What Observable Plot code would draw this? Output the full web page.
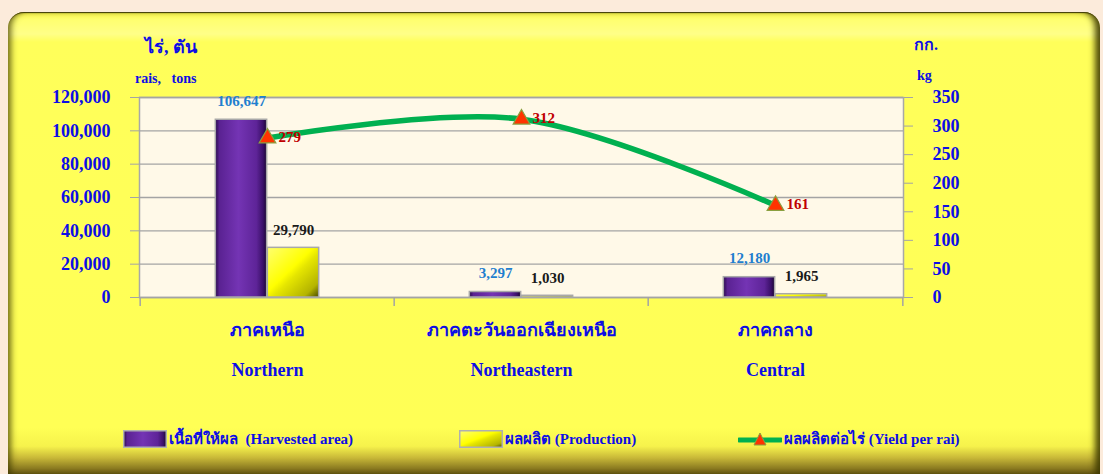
<!DOCTYPE html>
<html><head><meta charset="utf-8">
<script src="https://cdn.jsdelivr.net/npm/d3@7"></script>
<script src="https://cdn.jsdelivr.net/npm/@observablehq/plot@0.6"></script>
<style>
html,body{margin:0;padding:0;background:#fcebdb;}
#wrap{position:relative;width:1103px;height:474px;overflow:hidden;background:#fcebdb;font-family:"Liberation Serif","Times New Roman",serif;}
#panel{position:absolute;left:8px;top:12px;width:1092px;height:462px;border-radius:16px 16px 0 0;
 background:linear-gradient(#f4f048 0px,#ffff70 8px,#ffff88 22px,#ffff5a 30px,#ffff55 90%,#f6f24c 94%,#c8b838 96.5%,#6a5a14 100%);
 box-shadow:inset -8px 0 6px -3px rgba(60,55,0,.9), inset 6px 0 6px -3px rgba(60,55,0,.75), inset 0 2px 1px -1px rgba(40,35,0,.9);}
#chart{position:absolute;left:0;top:0;}
.t{position:absolute;color:#0d0de6;font-weight:bold;white-space:pre;}
.leg{position:absolute;display:flex;align-items:center;color:#0d0de6;font-weight:bold;font-size:15px;white-space:pre;}
.leg svg{margin-right:2px;}
</style>
</head><body>
<svg width="0" height="0" style="position:absolute">
 <defs>
  <linearGradient id="gPurple" x1="0" y1="0" x2="1" y2="0">
   <stop offset="0" stop-color="#2a0a4c"/><stop offset="0.08" stop-color="#5a2292"/>
   <stop offset="0.45" stop-color="#7434b4"/><stop offset="0.8" stop-color="#5e2498"/>
   <stop offset="0.93" stop-color="#3a1068"/><stop offset="1" stop-color="#1a0630"/>
  </linearGradient>
  <linearGradient id="gYellow" x1="0" y1="0" x2="1" y2="1">
   <stop offset="0" stop-color="#ffff70"/><stop offset="0.45" stop-color="#ffff00"/>
   <stop offset="0.55" stop-color="#e6e600"/><stop offset="0.85" stop-color="#b4b400"/>
   <stop offset="1" stop-color="#4a4a00"/>
  </linearGradient>
 </defs>
</svg>
<div id="wrap">
 <div id="panel"></div>
 <div id="chart"></div>
 <div class="t" style="left:145px;top:32px;font-size:18px;">ไร่, ตัน</div>
 <div class="t" style="left:135px;top:71px;font-size:14px;">rais,   tons</div>
 <div class="t" style="left:914px;top:32px;font-size:16px;">กก.</div>
 <div class="t" style="left:917px;top:68px;font-size:14px;">kg</div>
 <div class="leg" style="left:123px;top:427px;">
  <svg width="44" height="18"><rect x="0.75" y="0.75" width="42.5" height="16.5" fill="url(#gPurple)" stroke="#b0b0b0" stroke-width="1.5"/></svg><span>เนื้อที่ให้ผล  (Harvested area)</span>
 </div>
 <div class="leg" style="left:459px;top:427px;">
  <svg width="44" height="18"><rect x="0.75" y="0.75" width="42.5" height="16.5" fill="url(#gYellow)" stroke="#b0b0b0" stroke-width="1.5"/></svg><span>ผลผลิต (Production)</span>
 </div>
 <div class="leg" style="left:738px;top:427px;">
  <svg width="44" height="18"><line x1="1" y1="10" x2="43" y2="10" stroke="#00b050" stroke-width="5" stroke-linecap="round"/><path d="M22,3 L28,15 L16,15 Z" fill="#ff3300" stroke="#8aa040" stroke-width="1"/></svg><span>ผลผลิตต่อไร่ (Yield per rai)</span>
 </div>
</div>
<script>
// ---- data ----
const regionsTh = ["ภาคเหนือ", "ภาคตะวันออกเฉียงเหนือ", "ภาคกลาง"];
const regionsEn = ["Northern", "Northeastern", "Central"];
const harvestedArea = [106647, 3297, 12180];   // rais
const production = [29790, 1030, 1965];        // tons
const yieldPerRai = [279, 312, 161];           // kg
const leftTicks = [0, 20000, 40000, 60000, 80000, 100000, 120000];
const rightTicks = [0, 50, 100, 150, 200, 250, 300, 350];

// ---- layout ----
const W = 1103, H = 410, mL = 139, mR = 200, mT = 97, mB = 113;
const K = 120000 / 350;                 // right axis -> left axis units
const half = (W - mL - mR) / 3 / 2;     // half band width
const barW = 52;
const blue = "#0d0de6";

const rows = regionsEn.map((r, i) => ({
  region: r, th: regionsTh[i], area: harvestedArea[i], prod: production[i],
  yld: yieldPerRai[i], yScaled: yieldPerRai[i] * K
}));

const sepStyle = {y1: 0, y2: -5400, stroke: "#a4a4a4", strokeWidth: 1.5};

const chart = Plot.plot({
  width: W, height: H, marginLeft: mL, marginRight: mR, marginTop: mT, marginBottom: mB,
  style: {background: "transparent", fontFamily: "'Liberation Serif','Times New Roman',serif"},
  x: {domain: regionsEn, padding: 0, axis: null},
  y: {domain: [0, 120000], axis: null, label: null},
  marks: [
    Plot.frame({fill: "#fff9e8", stroke: "#a8a8a8", strokeWidth: 1.5}),
    Plot.gridY(leftTicks, {stroke: "#a4a4a4", strokeOpacity: 1, strokeWidth: 1.3}),
    Plot.ruleX(regionsEn, {x: d => d, dx: -half, ...sepStyle}),
    Plot.ruleX(regionsEn.slice(-1), {x: d => d, dx: half, ...sepStyle}),
    Plot.axisY(leftTicks, {anchor: "left", label: null, tickSize: 9, tickPadding: 20, tickFormat: d3.format(","),
      stroke: "#a4a4a4", fill: blue, fontSize: 18, fontWeight: "bold"}),
    Plot.axisY(rightTicks.map(v => v * K), {anchor: "right", label: null, tickSize: 9, tickPadding: 20,
      tickFormat: d => Math.round(d / K), stroke: "#a4a4a4", fill: blue, fontSize: 18, fontWeight: "bold"}),
    Plot.barY(rows, {x: "region", y: "area", insetLeft: half - barW, insetRight: half,
      fill: "url(#gPurple)", stroke: "#a8a8a8", strokeWidth: 1.5}),
    Plot.barY(rows, {x: "region", y: "prod", insetLeft: half, insetRight: half - barW,
      fill: "url(#gYellow)", stroke: "#a8a8a8", strokeWidth: 1.5}),
    Plot.text(rows, {x: "region", y: "area", text: d => d3.format(",")(d.area), dx: -barW / 2, dy: -19,
      fill: "#1f7fcf", fontSize: 15, fontWeight: "bold"}),
    Plot.text(rows, {x: "region", y: "prod", text: d => d3.format(",")(d.prod), dx: barW / 2, dy: -18,
      fill: "#1a1a1a", fontSize: 15, fontWeight: "bold"}),
    Plot.line(rows, {x: "region", y: "yScaled", curve: "catmull-rom", stroke: "#00b050", strokeWidth: 5.5}),
    Plot.dot(rows, {x: "region", y: "yScaled", symbol: "triangle", r: 6.2, fill: "#ff3300", stroke: "#8aa040", strokeWidth: 1.2}),
    Plot.text(rows, {x: "region", y: "yScaled", text: d => String(d.yld), dx: 11, dy: -1, textAnchor: "start",
      fill: "#c00000", fontSize: 15, fontWeight: "bold"}),
    Plot.text(rows, {x: "region", text: "th", frameAnchor: "bottom", dy: 38, fill: blue, fontSize: 18, fontWeight: "bold",
      fontFamily: "'Noto Sans','DejaVu Sans',sans-serif"}),
    Plot.text(rows, {x: "region", text: "region", frameAnchor: "bottom", dy: 78, fill: blue, fontSize: 18, fontWeight: "bold"})
  ]
});
document.getElementById("chart").appendChild(chart);
</script>
</body></html>
